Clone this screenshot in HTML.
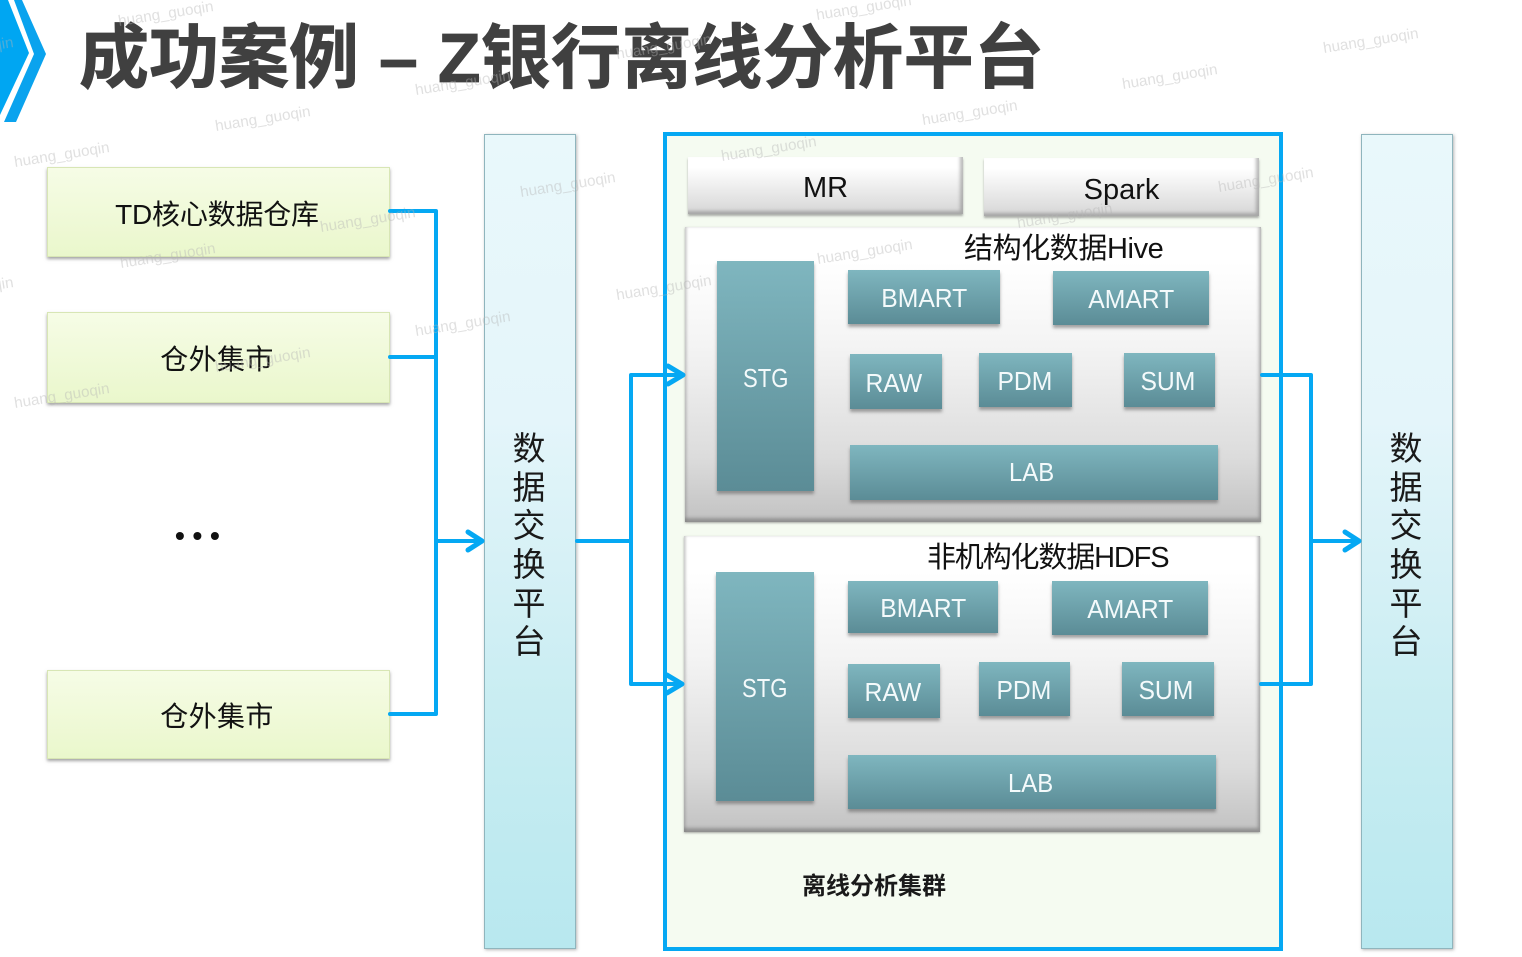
<!DOCTYPE html>
<html lang="zh">
<head>
<meta charset="utf-8">
<title>成功案例 – Z银行离线分析平台</title>
<style>
html,body{margin:0;padding:0;background:#fff;}
#p{position:relative;width:1522px;height:957px;overflow:hidden;background:#fff;font-family:"Liberation Sans","Noto Sans CJK SC",sans-serif;}
#p>*{position:absolute;}
.b{box-sizing:border-box;display:flex;align-items:center;justify-content:center;text-align:center;white-space:nowrap;}
.g{background:linear-gradient(#f6fce6,#eaf7cc);border:1px solid #d8e6b5;box-shadow:0 2px 3px rgba(90,90,90,.55);font-size:28px;color:#111;letter-spacing:-.2px;padding-top:1px;}
.m{letter-spacing:.4px;}
.v{background:linear-gradient(#e9f8fb,#e4f5fa 35%,#c9edf2 70%,#b8e8ef);border:1px solid #8fb5bd;box-shadow:1px 1px 3px rgba(90,90,90,.45);font-size:33px;line-height:38.6px;color:#1a1a1a;white-space:normal;width:92px;}
.v span{display:block;width:40px;margin:9px 2px 0 0;}
.w{background:linear-gradient(#fff 18%,#d6d6d6);box-shadow:inset -3px -3px 3px rgba(120,120,120,.5),0 2px 2px rgba(100,100,100,.5);font-size:29px;color:#111;padding-top:6px;}
.c{background:linear-gradient(#fff 12%,#f4f4f4 40%,#dcdcdc 78%,#c2c2c2);box-shadow:inset -2px -4px 3px rgba(110,110,110,.55),inset 2px 0 2px rgba(130,130,130,.35),0 1px 2px rgba(90,90,90,.5);}
.t{background:linear-gradient(#7fb6bf,#5b8c96);color:#f4fafb;font-size:26px;box-shadow:0 3px 3px rgba(80,80,80,.5);}
.t span{display:inline-block;transform:scaleX(.95);}
.t .s{transform:scaleX(.85);}
.t .a{transform:scaleX(.92);}
.l{font-size:29px;color:#111;white-space:nowrap;letter-spacing:-.4px;}
svg{left:0;top:0;}
</style>
</head>
<body>
<div id="p">
<svg width="1522" height="957" viewBox="0 0 1522 957" style="position:absolute">
<polygon points="0,0 8,0 29,53 0,115" fill="#00a6f2"/>
<polygon points="14,0 22,0 46,54 16,122 4,122 34,54" fill="#0aa3ee"/>
</svg>
<div class="l" style="left:79px;top:16px;font-size:70px;font-weight:bold;color:#404040;letter-spacing:0;word-spacing:.5px;line-height:85px;-webkit-text-stroke:.8px #404040;">成功案例 – Z<span style="letter-spacing:.5px;">银行离线分析平台</span></div>

<div class="b g" style="left:47px;top:167px;width:343px;height:90px;padding-right:3px;">TD核心数据仓库</div>
<div class="b g m" style="left:47px;top:312px;width:343px;height:91px;padding-right:3px;">仓外集市</div>
<div class="b g m" style="left:47px;top:670px;width:343px;height:89px;padding-right:3px;">仓外集市</div>
<div class="l" style="left:175px;top:516px;font-size:28px;font-weight:bold;letter-spacing:7.7px;line-height:40px;">•••</div>

<div class="b v" style="left:484px;top:134px;height:815px;"><span>数据交换平台</span></div>
<div class="b v" style="left:1361px;top:134px;height:815px;"><span>数据交换平台</span></div>

<div style="left:663px;top:132px;width:620px;height:819px;box-sizing:border-box;border:4px solid #05a8f3;background:#f5fbf1;"></div>

<div class="b w" style="left:688px;top:157px;width:275px;height:57px;">MR</div>
<div class="b w" style="left:984px;top:158px;width:275px;height:58px;">Spark</div>

<div class="c" style="left:685px;top:227px;width:576px;height:295px;"></div>
<div class="c" style="left:684px;top:536px;width:576px;height:296px;"></div>

<div class="l" style="left:964px;top:231px;line-height:36px;">结构化数据Hive</div>
<div class="l" style="left:927px;top:540px;line-height:36px;letter-spacing:-1.15px;">非机构化数据HDFS</div>

<div class="b t" style="left:717px;top:261px;width:97px;height:230px;padding:5px 0 0 1px;"><span class="s">STG</span></div>
<div class="b t" style="left:848px;top:270px;width:152px;height:54px;padding-top:2px;"><span>BMART</span></div>
<div class="b t" style="left:1053px;top:271px;width:156px;height:54px;padding-top:3px;"><span>AMART</span></div>
<div class="b t" style="left:850px;top:354px;width:92px;height:55px;padding:3px 4px 0 0;"><span>RAW</span></div>
<div class="b t" style="left:979px;top:353px;width:93px;height:54px;padding:3px 2px 0 0;"><span>PDM</span></div>
<div class="b t" style="left:1124px;top:353px;width:91px;height:54px;padding:3px 3px 0 0;"><span>SUM</span></div>
<div class="b t" style="left:850px;top:445px;width:368px;height:55px;padding:0 4px 0 0;"><span class="a">LAB</span></div>

<div class="b t" style="left:716px;top:572px;width:98px;height:229px;padding-top:4px;"><span class="s">STG</span></div>
<div class="b t" style="left:848px;top:581px;width:150px;height:52px;padding-top:2px;"><span>BMART</span></div>
<div class="b t" style="left:1052px;top:581px;width:156px;height:54px;padding-top:2px;"><span>AMART</span></div>
<div class="b t" style="left:848px;top:664px;width:92px;height:54px;padding:3px 3px 0 0;"><span>RAW</span></div>
<div class="b t" style="left:979px;top:662px;width:91px;height:54px;padding:3px 2px 0 0;"><span>PDM</span></div>
<div class="b t" style="left:1122px;top:662px;width:92px;height:54px;padding:3px 4px 0 0;"><span>SUM</span></div>
<div class="b t" style="left:848px;top:755px;width:368px;height:54px;padding:3px 3px 0 0;"><span class="a">LAB</span></div>

<div class="l" style="left:802px;top:872px;font-size:24px;font-weight:bold;letter-spacing:0;line-height:30px;color:#1a1a1a;">离线分析集群</div>

<svg width="1522" height="957" viewBox="0 0 1522 957" style="position:absolute" fill="none" stroke="#05a8f3" stroke-width="4" stroke-linejoin="round" stroke-linecap="round">
<path d="M390 211H436V714H390M390 357H436M436 541H481"/>
<path d="M468 532L482 541L468 550" stroke-width="5"/>
<path d="M577 541H631M631 541V375H683M631 541V684H682"/>
<path d="M668 366L683 375L668 384" stroke-width="5"/>
<path d="M667 675L682 684L667 693" stroke-width="5"/>
<path d="M1262 375H1311V684H1261M1311 541H1358"/>
<path d="M1345 532L1359 541L1345 550" stroke-width="5"/>
<g fill="#b5b5b5" stroke="none" opacity=".42" font-family="'Liberation Sans',sans-serif" font-size="15.2">
<text transform="translate(119,26) rotate(-9)">huang_guoqin</text>
<text transform="translate(817,20) rotate(-9)">huang_guoqin</text>
<text transform="translate(416,95) rotate(-9)">huang_guoqin</text>
<text transform="translate(216,131) rotate(-9)">huang_guoqin</text>
<text transform="translate(15,167) rotate(-9)">huang_guoqin</text>
<text transform="translate(321,232) rotate(-9)">huang_guoqin</text>
<text transform="translate(121,268) rotate(-9)">huang_guoqin</text>
<text transform="translate(521,197) rotate(-9)">huang_guoqin</text>
<text transform="translate(722,161) rotate(-9)">huang_guoqin</text>
<text transform="translate(923,125) rotate(-9)">huang_guoqin</text>
<text transform="translate(1123,89) rotate(-9)">huang_guoqin</text>
<text transform="translate(1324,53) rotate(-9)">huang_guoqin</text>
<text transform="translate(1219,192) rotate(-9)">huang_guoqin</text>
<text transform="translate(1018,228) rotate(-9)">huang_guoqin</text>
<text transform="translate(818,264) rotate(-9)">huang_guoqin</text>
<text transform="translate(617,300) rotate(-9)">huang_guoqin</text>
<text transform="translate(416,336) rotate(-9)">huang_guoqin</text>
<text transform="translate(216,372) rotate(-9)">huang_guoqin</text>
<text transform="translate(15,408) rotate(-9)">huang_guoqin</text>
<text transform="translate(617,59) rotate(-9)">huang_guoqin</text>
<text transform="translate(-81,62) rotate(-9)">huang_guoqin</text>
<text transform="translate(-81,302) rotate(-9)">huang_guoqin</text>
</g>
</svg>
</div>
</body>
</html>
